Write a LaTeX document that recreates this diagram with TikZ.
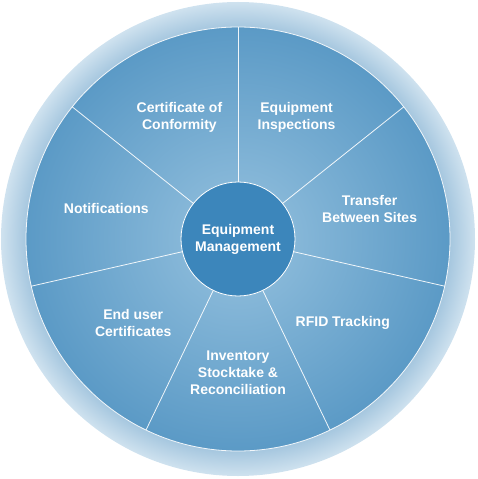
\documentclass[tikz,border=0pt]{standalone}
\usepackage{fontspec}
\setmainfont{Liberation Sans}
\definecolor{ringin}{HTML}{A6C7DF}
\definecolor{ringout}{HTML}{CFE2EF}
\definecolor{pielight}{HTML}{86B7D8}
\definecolor{piedark}{HTML}{5B9AC6}
\definecolor{hubblue}{HTML}{3C86BB}
\pgfdeclareradialshading{ringshade}{\pgfpointorigin}{color(0bp)=(ringin); color(22.4bp)=(ringin); color(25bp)=(ringout); color(50bp)=(ringout)}
\pgfdeclareradialshading{pieshade}{\pgfpointorigin}{color(0bp)=(pielight); color(6.7bp)=(pielight); color(25bp)=(piedark); color(50bp)=(piedark)}
\tikzset{
  sector text/.style={text=white, font=\fontsize{14}{17}\selectfont\bfseries, align=center},
  divider/.style={draw=white, line width=0.8pt, opacity=0.9},
}

\begin{document}
\begin{tikzpicture}[x=1pt, y=1pt]
      \useasboundingbox (-238,-240) rectangle (240,239);

      % outer ring and pie
      \shade[shading=ringshade] (0,0) circle (237);
      \shade[shading=pieshade] (0,0) circle (212);
      \draw[white, line width=0.8pt, opacity=0.9] (0,0) circle (212);

      % dividers
      \draw[divider] (90:57) -- (90:212);
      \draw[divider] (38.57:57) -- (38.57:212);
      \draw[divider] (-12.86:57) -- (-12.86:212);
      \draw[divider] (-64.29:57) -- (-64.29:212);
      \draw[divider] (-115.71:57) -- (-115.71:212);
      \draw[divider] (-167.14:57) -- (-167.14:212);
      \draw[divider] (141.43:57) -- (141.43:212);

      \node[circle, fill=hubblue, draw=white, line width=0.8pt, minimum size=114pt, inner sep=0pt, sector text] (hub) at (0,0) {Equipment\\Management};

      \node[sector text] (conformity) at (115.71:135) {Certificate of\\Conformity};
      \node[sector text] (inspections) at (64.29:135) {Equipment\\Inspections};
      \node[sector text] (transfer) at (12.86:135) {Transfer\\Between Sites};
      \node[sector text] (rfid) at (-38.57:134) {RFID Tracking};
      \node[sector text] (stocktake) at (-90:134) {Inventory\\Stocktake \&\\Reconciliation};
      \node[sector text] (enduser) at (-141.43:134) {End user\\Certificates};
      \node[sector text] (notify) at (167.14:135) {Notifications};

\end{tikzpicture}
\end{document}
